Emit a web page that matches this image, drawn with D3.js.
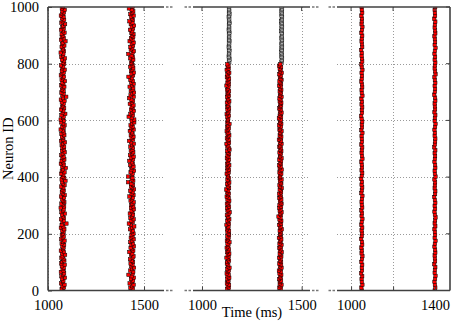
<!DOCTYPE html>
<html>
<head>
<meta charset="utf-8">
<script src="https://cdn.jsdelivr.net/npm/d3@7"></script>
<style>
body { margin: 0; background: #fff; }
text { font-family: "Liberation Serif", serif; }
</style>
</head>
<body>
<script>
var w = 454;
var h = 322;

// y axis (neuron ids)
var yTicks = [0, 200, 400, 600, 800, 1000];

// x ticks per panel
var xTicks1 = [1000, 1500];
var xTicks2 = [1000, 1500];
var xTicks3 = [1000, 1200, 1400];
var xLabels3 = ["1000", "", "1400"];

// onset time of each volley (ms)
var onsets1 = [1076, 1437];
var onsets2 = [1130, 1393];
var onsetsGray2 = [1136, 1400];
var onsets3 = [1051, 1399];

// spike time jitter around the onset, one value per neuron (ms)
var jit1a = [2,-5,7,-1,10,-8,1,4,-3,12,-6,3,8,-9,5,0,6,-4,11,-7,
    -2,9,4,-6,0,13,-3,7,-9,2,5,-1,8,-5,3,10,-7,1,6,-4,
    2,5,-2,9,-9,4,-5,20,-1,6,-8,7,1,-3,12,-6,3,5,-10,8,
    0,-6,9,3,-2,7,-8,11,1,-4,6,-1,4,-7,10,2,-3,15,-5,8,
    0,4,-7,10,-4,2,17,-2,6,-9,4,-5,9,-1,5,-7,1,11,-3,7,
    -1,8,-5,2,12,-8,4,0,-3,9,-6,6,1,-10,5,-2,10,3,-7,7,
    -10,3,5,-6,14,0,4,-8,8,-2,2,6,-4,10,-9,3,19,-1,5,-6,
    5,-3,1,9,-7,4,-1,12,-5,2,7,-9,0,6,-4,11,-2,3,-8,8,
    1,8,-3,12,-7,2,4,-10,7,0,3,-5,9,-2,1,15,-8,6,-4,3,
    -5,10,2,-8,6,-1,4,13,-6,1,8,-3,5,-9,0,7,-2,11,-4,3];
var jit1b = [-3,5,-8,2,9,-12,1,6,-5,10,-2,-18,4,7,-9,0,11,-4,3,-7,
    6,-1,-10,4,8,-5,2,-14,7,0,-7,10,-3,5,-9,1,9,-6,3,-2,
    8,-1,5,-10,2,12,-6,-16,4,-3,9,-8,1,6,-11,3,-2,10,-5,7,
    -4,2,9,-7,0,5,-13,8,-2,4,-9,11,1,-5,6,-3,-20,7,-1,3,
    -20,0,4,-7,11,-3,2,8,-9,5,-1,-14,6,-4,9,-10,1,7,-6,3,
    5,-8,1,10,-4,-15,6,-2,8,-6,3,0,-11,9,-3,4,-7,2,12,-1,
    12,-2,-17,5,-8,2,10,-5,4,-1,8,-11,0,6,-3,-15,9,-7,3,11,
    -6,3,7,-12,1,9,-4,5,-8,0,-18,6,-2,10,-5,2,7,-9,4,-1,
    -4,1,7,-9,5,-2,-19,4,10,-6,2,-8,6,-1,9,-12,3,-5,7,0,
    8,-3,2,-10,6,-1,11,-6,3,-13,5,0,-4,9,-8,2,7,-2,-16,4];
var jit2a = [2,-4,5,-1,6,-5,1,3,-3,7,-2,4,-6,0,5,-3,8,-1,2,-5,
    -3,6,1,-7,4,-1,7,-4,2,5,-6,0,3,-2,8,-5,1,4,-3,6,
    4,-2,6,-4,1,3,-7,5,0,-3,7,-1,2,-5,4,9,-2,3,-4,6,
    0,-5,3,7,-2,4,-6,1,5,-3,2,-8,6,-1,3,-4,7,0,-2,5,
    -1,1,-6,4,-2,5,-3,0,7,-4,2,-1,5,-5,3,-2,6,0,-4,8,
    5,-3,2,-7,6,-1,4,-5,1,7,-2,3,-6,0,5,-4,2,8,-3,1,
    -1,2,-3,5,-6,1,4,-2,6,-3,0,3,-5,7,-1,2,-4,5,-2,1,
    6,-4,0,3,-7,5,-2,4,-1,6,-5,2,-3,7,1,-6,4,-1,3,-3];
var jit2b = [-2,3,-5,1,6,-3,0,4,-6,2,-1,5,-4,3,-7,1,6,-2,4,-5,
    4,-1,2,-6,5,0,-3,7,-2,3,-5,1,6,-4,2,-1,5,-7,3,0,
    0,3,-3,7,-1,2,-6,4,-2,5,-4,1,-9,3,-1,6,-3,2,-5,4,
    -4,6,1,-2,5,-5,3,0,-6,4,2,-3,7,-1,-4,5,1,-2,6,-3,
    0,-2,5,-4,1,7,-3,2,-6,3,-1,4,-5,6,-2,0,3,-4,5,-1,
    3,-5,0,6,-2,4,-7,1,5,-3,2,-1,6,-4,0,3,-6,5,-2,1,
    2,-7,4,-3,1,6,-2,3,-5,0,4,-1,5,-3,2,-4,6,-2,1,3,
    -3,5,-1,2,-6,4,0,-4,6,1,-2,3,-5,7,-1,2,-3,4,-6,0];
var jitGray2a = [1,-1,2,0,-2,1,-1,0,2,-1,1,-2,0,1,-1,2,0,-1,1,0,
    -1,2,0,-2,1,0,-1,1,2,0,-1,1,-2,0,2,-1,1,0,-1,1];
var jitGray2b = [-1,1,0,2,-1,0,1,-2,1,0,-1,2,0,-1,1,0,2,-1,0,1,
    1,0,-2,1,-1,2,0,-1,1,-2,0,1,2,-1,0,1,-1,0,2,-1];
var jit3a = [1,-2,3,0,-1,2,-3,1,0,2,-2,1,3,-1,0,-2,2,1,-3,0,1,-1,2,-2,0,3,-1,1,-2,2,0,-1,1,3,-2,0,2,-1,1,-3,0,2,-1,1,0,-2,3,1,-1,0,2,-2,1,0,-1,3,-2,1,0,2,-1,-3,1,0,2,-1,1,-2,3,0,-1,2,1,-2,0,1,-1,3,0,-2,2,1,-1,0,-3,2,1,-1,0,2,-2,1,3,-1,0,1,-2,2,0,-1];
var jit3b = [-1,2,0,-2,1,3,-1,0,2,-3,1,0,-1,2,1,-2,0,3,-1,1,0,-2,2,-1,1,3,0,-2,1,-1,2,0,-3,1,2,-1,0,1,-2,3,0,-1,2,1,-2,0,1,-1,2,-3,0,1,2,-1,0,-2,1,3,-1,0,2,-2,1,0,-1,2,1,-3,0,1,-1,2,0,-2,3,1,-1,0,2,-1,1,-2,0,3,-1,1,0,-2,2,1,-1,0,2,-3,1,0,-1,2];

var red = "#ff0000";
var gray = "#c0c0c0";
var spineColor = "#404040";
var gridColor = "#9a9a9a";
var fontSize = 14.5;

var svg = d3.select("body")
    .append("svg")
    .attr("width", w)
    .attr("height", h);

var yScale = d3.scaleLinear()
    .domain([0, 1000])
    .range([290.5, 7]);

// spread the neurons of a group evenly over their id range
function toSpikes(onset, jit, lo, hi) {
    return jit.map(function (j, i) {
        return { t: onset + j, id: lo + i * (hi - lo) / (jit.length - 1) };
    });
}

var panels = [
    {
        x: d3.scaleLinear().domain([1000, 1604]).range([48, 164]),
        ticks: xTicks1, labels: null, left: true, right: false,
        groups: [
            { data: toSpikes(onsets1[0], jit1a, 0, 1000), fill: red },
            { data: toSpikes(onsets1[1], jit1b, 0, 1000), fill: red }
        ]
    },
    {
        x: d3.scaleLinear().domain([955, 1542]).range([193, 310]),
        ticks: xTicks2, labels: null, left: false, right: false,
        groups: [
            { data: toSpikes(onsetsGray2[0], jitGray2a, 805, 1000), fill: gray },
            { data: toSpikes(onsetsGray2[1], jitGray2b, 805, 1000), fill: gray },
            { data: toSpikes(onsets2[0], jit2a, 0, 798), fill: red },
            { data: toSpikes(onsets2[1], jit2b, 0, 798), fill: red }
        ]
    },
    {
        x: d3.scaleLinear().domain([933, 1471]).range([337, 450]),
        ticks: xTicks3, labels: xLabels3, left: false, right: true,
        groups: [
            { data: toSpikes(onsets3[0], jit3a, 0, 1000), fill: red },
            { data: toSpikes(onsets3[1], jit3b, 0, 1000), fill: red }
        ]
    }
];

var y0 = yScale(0);
var y1 = yScale(1000);
var ms = 3.4; // marker size

panels.forEach(function (p, k) {
    var x0 = p.x.range()[0];
    var x1 = p.x.range()[1];
    var g = svg.append("g");

    svg.append("clipPath")
        .attr("id", "clip" + k)
        .append("rect")
        .attr("x", x0)
        .attr("y", y1)
        .attr("width", x1 - x0)
        .attr("height", y0 - y1);

    // grid
    g.selectAll(".hgrid")
        .data(yTicks.slice(1, -1))
        .enter()
        .append("line")
        .attr("x1", x0)
        .attr("x2", x1)
        .attr("y1", function (d) { return Math.round(yScale(d)) + 0.5; })
        .attr("y2", function (d) { return Math.round(yScale(d)) + 0.5; })
        .attr("stroke", gridColor)
        .attr("stroke-width", 1)
        .attr("stroke-dasharray", "1,2");

    g.selectAll(".vgrid")
        .data(p.ticks)
        .enter()
        .append("line")
        .attr("x1", function (d) { return Math.round(p.x(d)) + 0.5; })
        .attr("x2", function (d) { return Math.round(p.x(d)) + 0.5; })
        .attr("y1", y1)
        .attr("y2", y0)
        .attr("stroke", gridColor)
        .attr("stroke-width", 1)
        .attr("stroke-dasharray", "1,2");

    // spikes
    var marks = g.append("g").attr("clip-path", "url(#clip" + k + ")");
    p.groups.forEach(function (grp) {
        marks.selectAll(null)
            .data(grp.data)
            .enter()
            .append("rect")
            .attr("x", function (d) { return p.x(d.t) - ms / 2; })
            .attr("y", function (d) { return yScale(d.id) - ms / 2; })
            .attr("width", ms)
            .attr("height", ms)
            .attr("fill", grp.fill)
            .attr("stroke", "#000")
            .attr("stroke-width", 0.5);
    });

    // spines
    [y1, y0].forEach(function (yy) {
        g.append("line")
            .attr("x1", x0).attr("x2", x1)
            .attr("y1", yy).attr("y2", yy)
            .attr("stroke", spineColor)
            .attr("stroke-width", 1.6);
    });
    if (p.left) {
        g.append("line")
            .attr("x1", x0).attr("x2", x0)
            .attr("y1", y1).attr("y2", y0)
            .attr("stroke", spineColor)
            .attr("stroke-width", 1.6);
    }
    if (p.right) {
        g.append("line")
            .attr("x1", x1).attr("x2", x1)
            .attr("y1", y1).attr("y2", y0)
            .attr("stroke", spineColor)
            .attr("stroke-width", 1.6);
    }

    // break marks where the axis is cut
    var ends = [];
    if (!p.left) ends.push([x0 - 2, x0 - 9]);
    if (!p.right) ends.push([x1 + 2, x1 + 9]);
    ends.forEach(function (e) {
        [y1, y0].forEach(function (yy) {
            g.append("line")
                .attr("x1", e[0]).attr("x2", e[1])
                .attr("y1", yy).attr("y2", yy)
                .attr("stroke", "#777")
                .attr("stroke-width", 1.4)
                .attr("stroke-dasharray", "2.5,1.5");
        });
    });

    // x ticks, inward on top and bottom
    var xAxisB = d3.axisBottom(p.x)
        .tickValues(p.ticks)
        .tickSizeInner(-4)
        .tickSizeOuter(0)
        .tickPadding(9)
        .tickFormat(function (d, i) { return p.labels ? p.labels[i] : d; });
    var ax = svg.append("g")
        .attr("transform", "translate(0," + y0 + ")")
        .call(xAxisB);
    ax.select(".domain").remove();
    ax.selectAll(".tick line").attr("stroke", spineColor).attr("stroke-width", 1);
    ax.selectAll("text")
        .attr("font-family", "Liberation Serif")
        .attr("font-size", fontSize)
        .attr("fill", "#000");

    svg.append("g")
        .selectAll("line")
        .data(p.ticks)
        .enter()
        .append("line")
        .attr("x1", function (d) { return p.x(d); })
        .attr("x2", function (d) { return p.x(d); })
        .attr("y1", y1)
        .attr("y2", y1 + 4)
        .attr("stroke", spineColor);

    if (p.left) {
        var yAxis = d3.axisLeft(yScale)
            .tickValues(yTicks)
            .tickSizeInner(-4)
            .tickSizeOuter(0)
            .tickPadding(9)
            .tickFormat(d3.format("d"));
        var ay = svg.append("g")
            .attr("transform", "translate(" + x0 + ",0)")
            .call(yAxis);
        ay.select(".domain").remove();
        ay.selectAll(".tick line").attr("stroke", spineColor);
        ay.selectAll("text")
            .attr("font-family", "Liberation Serif")
            .attr("font-size", fontSize)
            .attr("fill", "#000");
    }
    if (p.right) {
        svg.append("g")
            .selectAll("line")
            .data(yTicks)
            .enter()
            .append("line")
            .attr("x1", x1 - 4)
            .attr("x2", x1)
            .attr("y1", function (d) { return yScale(d); })
            .attr("y2", function (d) { return yScale(d); })
            .attr("stroke", spineColor);
    }
});

svg.append("text")
    .attr("transform", "translate(13," + ((y0 + y1) / 2) + ") rotate(-90)")
    .attr("text-anchor", "middle")
    .attr("font-size", fontSize)
    .text("Neuron ID");

svg.append("text")
    .attr("x", 252)
    .attr("y", 317)
    .attr("text-anchor", "middle")
    .attr("font-size", fontSize)
    .text("Time (ms)");
</script>
</body>
</html>
